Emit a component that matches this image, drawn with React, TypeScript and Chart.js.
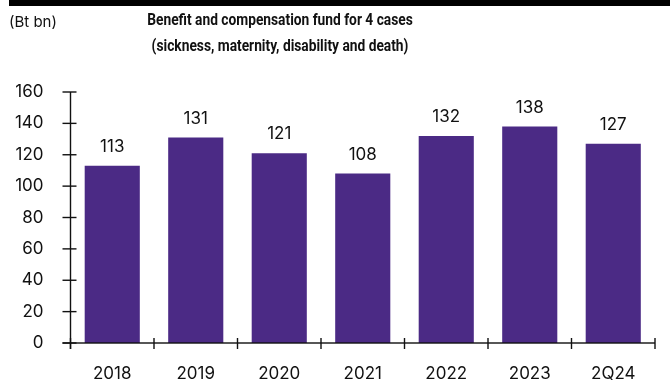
import React, { useEffect, useRef } from "react";
import { Chart, registerables } from "chart.js";

Chart.register(...registerables);

const categories = ["2018", "2019", "2020", "2021", "2022", "2023", "2Q24"];
const values = [113, 131, 121, 108, 132, 138, 127];
const yTicks = [0, 20, 40, 60, 80, 100, 120, 140, 160];
const unitLabel = "(Bt bn)";
const titleLines = [
  "Benefit and compensation fund for 4 cases",
  "(sickness, maternity, disability and death)",
];

const FONT = "Inter, 'Noto Sans', sans-serif";
const TITLE_FONT = "Roboto, 'Noto Sans', sans-serif";
const BAR = "#4b2a85";

const decorPlugin = {
  id: "decor",
  afterDraw(chart: any) {
    const ctx = chart.ctx;
    const x = chart.scales.x;
    const y = chart.scales.y;
    const area = chart.chartArea;
    const lw = 1.4;
    ctx.save();
    // top band
    ctx.fillStyle = "#000";
    ctx.fillRect(9, 0, chart.width - 9, 6);

    // axes (drawn as thin rects)
    ctx.fillStyle = "#111";
    const top = y.getPixelForValue(160);
    ctx.fillRect(area.left - lw / 2, top, lw, area.bottom + 6 - top);
    ctx.fillRect(area.left - 8, area.bottom - lw / 2, area.right - area.left + 8, lw);
    yTicks.forEach((v) => {
      const py = y.getPixelForValue(v);
      ctx.fillRect(area.left - 8, py - lw / 2, 14, lw);
    });
    const step = x.getPixelForValue(1) - x.getPixelForValue(0);
    for (let i = 0; i <= categories.length; i++) {
      const px = i < categories.length ? x.getPixelForValue(i) - step / 2 : area.right;
      ctx.fillRect(px - lw / 2, area.bottom - 5, lw, 11);
    }

    // unit label
    ctx.fillStyle = "#111";
    ctx.font = `15px ${FONT}`;
    ctx.textAlign = "left";
    ctx.textBaseline = "middle";
    ctx.fillText(unitLabel, 9, 22);
    // title (slightly condensed)
    ctx.font = `bold 16px ${TITLE_FONT}`;
    ctx.textAlign = "center";
    ctx.save();
    ctx.translate(280, 0);
    ctx.scale(0.86, 1);
    ctx.fillText(titleLines[0], 0, 21);
    ctx.fillText(titleLines[1], 0, 47);
    ctx.restore();

    // value labels
    const meta = chart.getDatasetMeta(0);
    ctx.font = `17px ${FONT}`;
    ctx.textAlign = "center";
    meta.data.forEach((bar: any, i: number) => {
      ctx.fillText(String(values[i]), bar.x, bar.y - 19);
    });
    ctx.restore();
  },
};

export default function App() {
  const ref = useRef<HTMLCanvasElement>(null);
  useEffect(() => {
    const chart = new Chart(ref.current!, {
      type: "bar",
      data: {
        labels: categories,
        datasets: [
          {
            data: values,
            backgroundColor: BAR,
            borderWidth: 0,
            categoryPercentage: 0.66,
            barPercentage: 1,
          },
        ],
      },
      options: {
        animation: false,
        responsive: false,
        maintainAspectRatio: false,
        layout: { padding: { left: 0, right: 15, top: 92, bottom: 0 } },
        plugins: { legend: { display: false }, tooltip: { enabled: false } },
        scales: {
          x: {
            grid: { display: false, drawOnChartArea: false, tickLength: 6 },
            border: { display: false },
            ticks: { color: "#111", font: { family: FONT, size: 17 }, padding: 15, maxRotation: 0 },
            afterFit: (s: any) => {
              s.height = 48;
            },
          },
          y: {
            min: 0,
            max: 160,
            grid: { display: false, drawOnChartArea: false, tickLength: 8 },
            border: { display: false },
            ticks: {
              stepSize: 20,
              color: "#111",
              font: { family: FONT, size: 17 },
              padding: 19,
            },
            afterFit: (s: any) => {
              s.width = 70.5;
            },
          },
        },
      },
      plugins: [decorPlugin],
    });
    return () => chart.destroy();
  }, []);
  return (
    <div style={{ position: "fixed", left: 0, top: 0, width: 670, height: 391, background: "#fff" }}>
      <canvas ref={ref} width={670} height={391} style={{ display: "block" }} />
    </div>
  );
}
